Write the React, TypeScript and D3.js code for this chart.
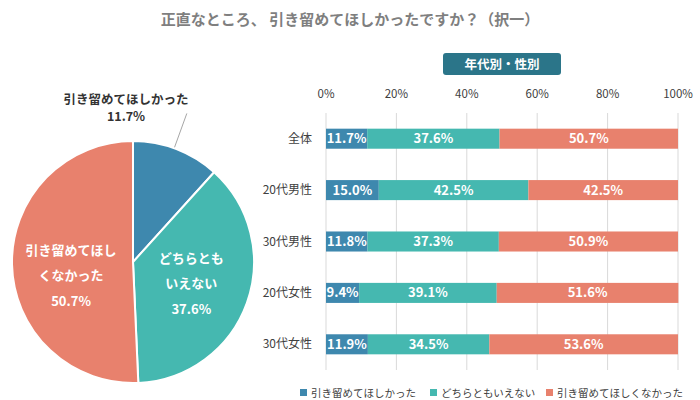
import React from 'react';
import * as d3 from 'd3';

const title = '正直なところ、 引き留めてほしかったですか？（択一）';
const seriesNames = ['引き留めてほしかった', 'どちらともいえない', '引き留めてほしくなかった'];
const colors = ['#3e88ae', '#45b8b0', '#e8816d'];

const pieValues = [11.7, 37.6, 50.7];
const pieLabelLines = [['引き留めてほしかった'], ['どちらとも', 'いえない'], ['引き留めてほし', 'くなかった']];

const categories = ['全体', '20代男性', '30代男性', '20代女性', '30代女性'];
const wantValues = [11.7, 15.0, 11.8, 9.4, 11.9];
const neutralValues = [37.6, 42.5, 37.3, 39.1, 34.5];
const notWantValues = [50.7, 42.5, 50.9, 51.6, 53.6];
const ticks = [0, 20, 40, 60, 80, 100];
const panelTitle = '年代別・性別';

const FONT = '"Noto Sans CJK JP", "Noto Sans", sans-serif';

export default function App() {
  // pie
  const cx = 133, cy = 262, R = 121;
  const pie = d3.pie<number>().sort(null).value(d => d);
  const arcs = pie(pieValues);
  const arcGen = d3.arc<d3.PieArcDatum<number>>().innerRadius(0).outerRadius(R);
  const labelArc = d3.arc<d3.PieArcDatum<number>>().innerRadius(62).outerRadius(62);
  const labelDy = [0, 0, 12];

  // bars
  const x = d3.scaleLinear().domain([0, 100]).range([326, 678]);
  const y = d3.scaleBand().domain(categories).range([113, 370]).paddingInner(0.61).paddingOuter(0.305);
  const series = [wantValues, neutralValues, notWantValues];
  const rows = categories.map((c, i) => {
    let acc = 0;
    return series.map((s, k) => {
      const v = s[i];
      const seg = { cat: c, k, v, x0: acc, x1: acc + v };
      acc += v;
      return seg;
    });
  });

  const blueArc = arcs[0];
  const mid = (blueArc.startAngle + blueArc.endAngle) / 2 - 0.02;
  const p1 = [cx + Math.sin(mid) * (R + 1), cy - Math.cos(mid) * (R + 1)];
  const p2 = [cx + Math.sin(mid) * 158, cy - Math.cos(mid) * 158];

  const legendX = [300, 430, 546];

  return (
    <svg width={700} height={400} style={{ position: 'absolute', left: 0, top: 0, fontFamily: FONT }}>
      <rect width={700} height={400} fill="#fff" />
      <text x={350} y={25} textAnchor="middle" fontSize={15} fontWeight="bold" fill="#7f7f7f">{title}</text>

      {/* pie */}
      <g transform={`translate(${cx},${cy})`}>
        {arcs.map((a, i) => (
          <path key={i} d={arcGen(a) || ''} fill={colors[i]} stroke="#fff" strokeWidth={2} />
        ))}
        {arcs.slice(1).map((a, j) => {
          const i = j + 1;
          const [lx, ly] = labelArc.centroid(a);
          const lines = [...pieLabelLines[i], pieValues[i].toFixed(1) + '%'];
          return (
            <text key={i} x={lx} textAnchor="middle" fill="#fff" fontSize={13} fontWeight="bold">
              {lines.map((l, n) => (
                <tspan key={n} x={lx} y={ly + labelDy[i] + (n - 1) * 25.5 + 5}>{l}</tspan>
              ))}
            </text>
          );
        })}
      </g>
      <line x1={p1[0]} y1={p1[1]} x2={p2[0]} y2={p2[1]} stroke="#a6a6a6" strokeWidth={1} />
      <text x={126} y={103.5} textAnchor="middle" fontSize={12.5} fontWeight="bold" fill="#333">{pieLabelLines[0][0]}</text>
      <text x={126} y={121} textAnchor="middle" fontSize={12.5} fontWeight="bold" fill="#333">{pieValues[0].toFixed(1) + '%'}</text>

      {/* bar panel */}
      <rect x={443} y={53} width={118} height={22} rx={3} fill="#2b7589" />
      <text x={502} y={68.5} textAnchor="middle" fontSize={12.5} fontWeight="bold" fill="#fff">{panelTitle}</text>

      {ticks.map(t => (
        <g key={t}>
          <line x1={x(t)} x2={x(t)} y1={113} y2={370} stroke="#d9d9d9" strokeWidth={1} />
          <text x={x(t)} y={98} textAnchor="middle" fontSize={11.5} fill="#404040">{t}%</text>
        </g>
      ))}

      {rows.map((segs, i) => (
        <g key={categories[i]}>
          <text x={312} y={(y(categories[i]) || 0) + y.bandwidth() / 2 + 4} textAnchor="end" fontSize={12} fill="#404040">{categories[i]}</text>
          {segs.map(s => (
            <rect key={s.k} x={x(s.x0)} y={y(s.cat)} width={x(s.x1) - x(s.x0)} height={y.bandwidth()} fill={colors[s.k]} />
          ))}
          {segs.map(s => (
            <text key={'t' + s.k} x={(x(s.x0) + x(s.x1)) / 2} y={(y(s.cat) || 0) + y.bandwidth() / 2 + 4.5} textAnchor="middle" fontSize={13} fontWeight="bold" fill="#fff">{s.v.toFixed(1)}%</text>
          ))}
        </g>
      ))}

      {/* legend */}
      {seriesNames.map((n, i) => (
        <g key={n}>
          <rect x={legendX[i]} y={389} width={7} height={7} fill={colors[i]} />
          <text x={legendX[i] + 11} y={396.5} fontSize={10.5} fill="#404040">{n}</text>
        </g>
      ))}
    </svg>
  );
}
